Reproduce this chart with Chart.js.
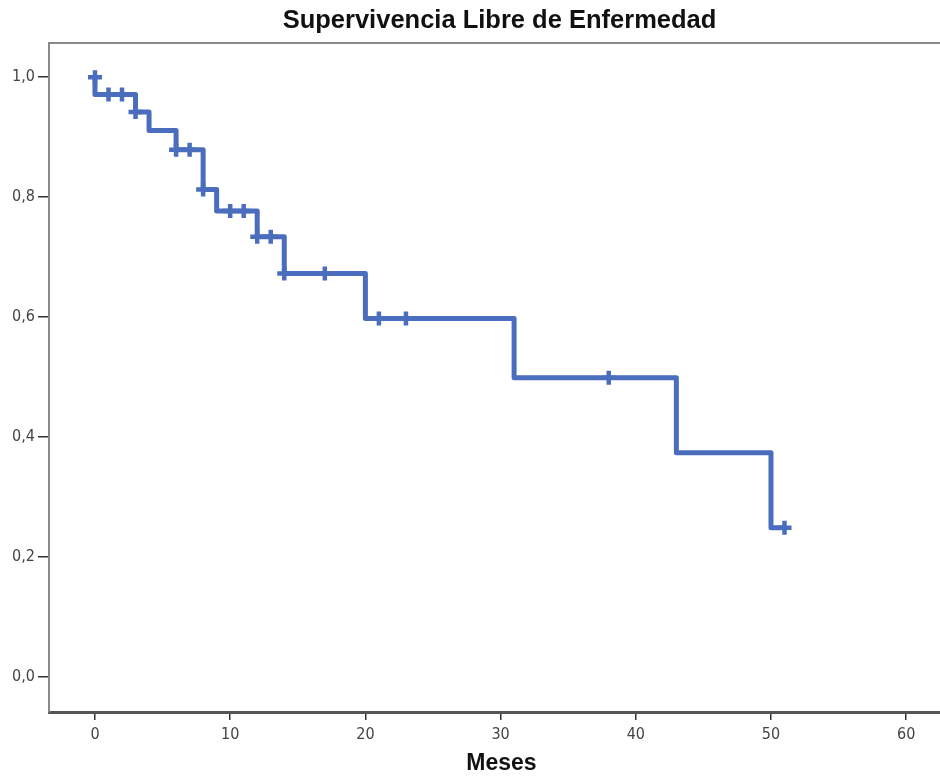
<!DOCTYPE html>
<html>
<head>
<meta charset="UTF-8">
<title>Supervivencia Libre de Enfermedad</title>
<script src="https://cdn.jsdelivr.net/npm/chart.js@4"></script>
<style>
  body { margin: 0; background: #fff; }
  canvas { display: block; }
</style>
</head>
<body>
<canvas id="km" width="940" height="777"></canvas>
<script>
// Kaplan-Meier steps
const eventTimes = [0, 0, 3, 4, 6, 8, 9, 12, 14, 20, 31, 43, 50, 51];
const survival = [1.0, 0.971, 0.942, 0.911, 0.879, 0.813, 0.777, 0.734, 0.673, 0.598, 0.499, 0.374, 0.249, 0.249];

// censored cases (+ marks)
const censorTimes = [0, 1, 2, 3, 6, 7, 8, 10, 11, 12, 13, 14, 17, 21, 23, 38, 51];
const censorSurv = [1.0, 0.971, 0.971, 0.942, 0.879, 0.879, 0.813, 0.777, 0.777, 0.734, 0.734, 0.673, 0.673, 0.598, 0.598, 0.499, 0.249];

const xTicks = [0, 10, 20, 30, 40, 50, 60];
const yTicks = [0, 0.2, 0.4, 0.6, 0.8, 1.0];

const BLUE = '#4a6dbd';
const tickFont = { family: '"DejaVu Sans Condensed", "DejaVu Sans", sans-serif', size: 16 };

// plot frame (top + left) and the two bold titles
const framePlugin = {
  id: 'frame',
  beforeDatasetsDraw(chart) {
    const { ctx, chartArea: a } = chart;
    ctx.save();
    ctx.strokeStyle = '#8a8a8a';
    ctx.lineWidth = 2;
    ctx.beginPath();
    ctx.moveTo(a.left, a.bottom);
    ctx.lineTo(a.left, a.top);
    ctx.lineTo(a.right, a.top);
    ctx.stroke();
    ctx.restore();
  },
  afterDraw(chart) {
    const { ctx, chartArea: a } = chart;
    const cx = (a.left + a.right) / 2;
    ctx.save();
    ctx.fillStyle = '#111';
    ctx.textAlign = 'center';
    ctx.textBaseline = 'middle';
    ctx.font = 'bold 25.5px "Liberation Sans", Arial, sans-serif';
    ctx.fillText('Supervivencia Libre de Enfermedad', cx + 5, 21);
    ctx.font = 'bold 23px "Liberation Sans", Arial, sans-serif';
    ctx.fillText('Meses', cx + 7, 764);
    ctx.restore();
  }
};

new Chart(document.getElementById('km'), {
  type: 'line',
  data: {
    datasets: [
      {
        label: 'Supervivencia',
        data: eventTimes.map((t, i) => ({ x: t, y: survival[i] })),
        borderColor: BLUE,
        borderWidth: 5,
        borderJoinStyle: 'round',
        stepped: true,
        pointRadius: 0,
        fill: false
      },
      {
        label: 'Censurado',
        type: 'scatter',
        data: censorTimes.map((t, i) => ({ x: t, y: censorSurv[i] })),
        pointStyle: 'cross',
        pointRadius: 7,
        pointBorderWidth: 4.5,
        borderColor: BLUE,
        backgroundColor: BLUE,
        showLine: false
      }
    ]
  },
  options: {
    responsive: false,
    animation: false,
    layout: { autoPadding: false, padding: { top: 43, left: 0, right: 0, bottom: 0 } },
    plugins: {
      legend: { display: false },
      tooltip: { enabled: false },
      title: { display: false }
    },
    scales: {
      x: {
        type: 'linear',
        min: -3.4,
        max: 62.5,
        afterBuildTicks: s => { s.ticks = xTicks.map(v => ({ value: v })); },
        afterFit: s => { s.height = 65; },
        grid: { drawOnChartArea: false, drawTicks: true, tickLength: 8, color: '#333', lineWidth: 1.5 },
        border: { display: true, color: '#555', width: 3 },
        ticks: { color: '#444', font: tickFont, padding: 5, maxRotation: 0 }
      },
      y: {
        type: 'linear',
        min: -0.058,
        max: 1.057,
        afterBuildTicks: s => { s.ticks = yTicks.map(v => ({ value: v })); },
        afterFit: s => { s.width = 49; },
        grid: { drawOnChartArea: false, drawTicks: true, tickLength: 11, color: '#333', lineWidth: 1.5 },
        border: { display: true, color: '#8a8a8a', width: 2 },
        ticks: {
          color: '#444',
          font: tickFont,
          padding: 3,
          callback: v => v.toFixed(1).replace('.', ',')
        }
      }
    }
  },
  plugins: [framePlugin]
});
</script>
</body>
</html>
